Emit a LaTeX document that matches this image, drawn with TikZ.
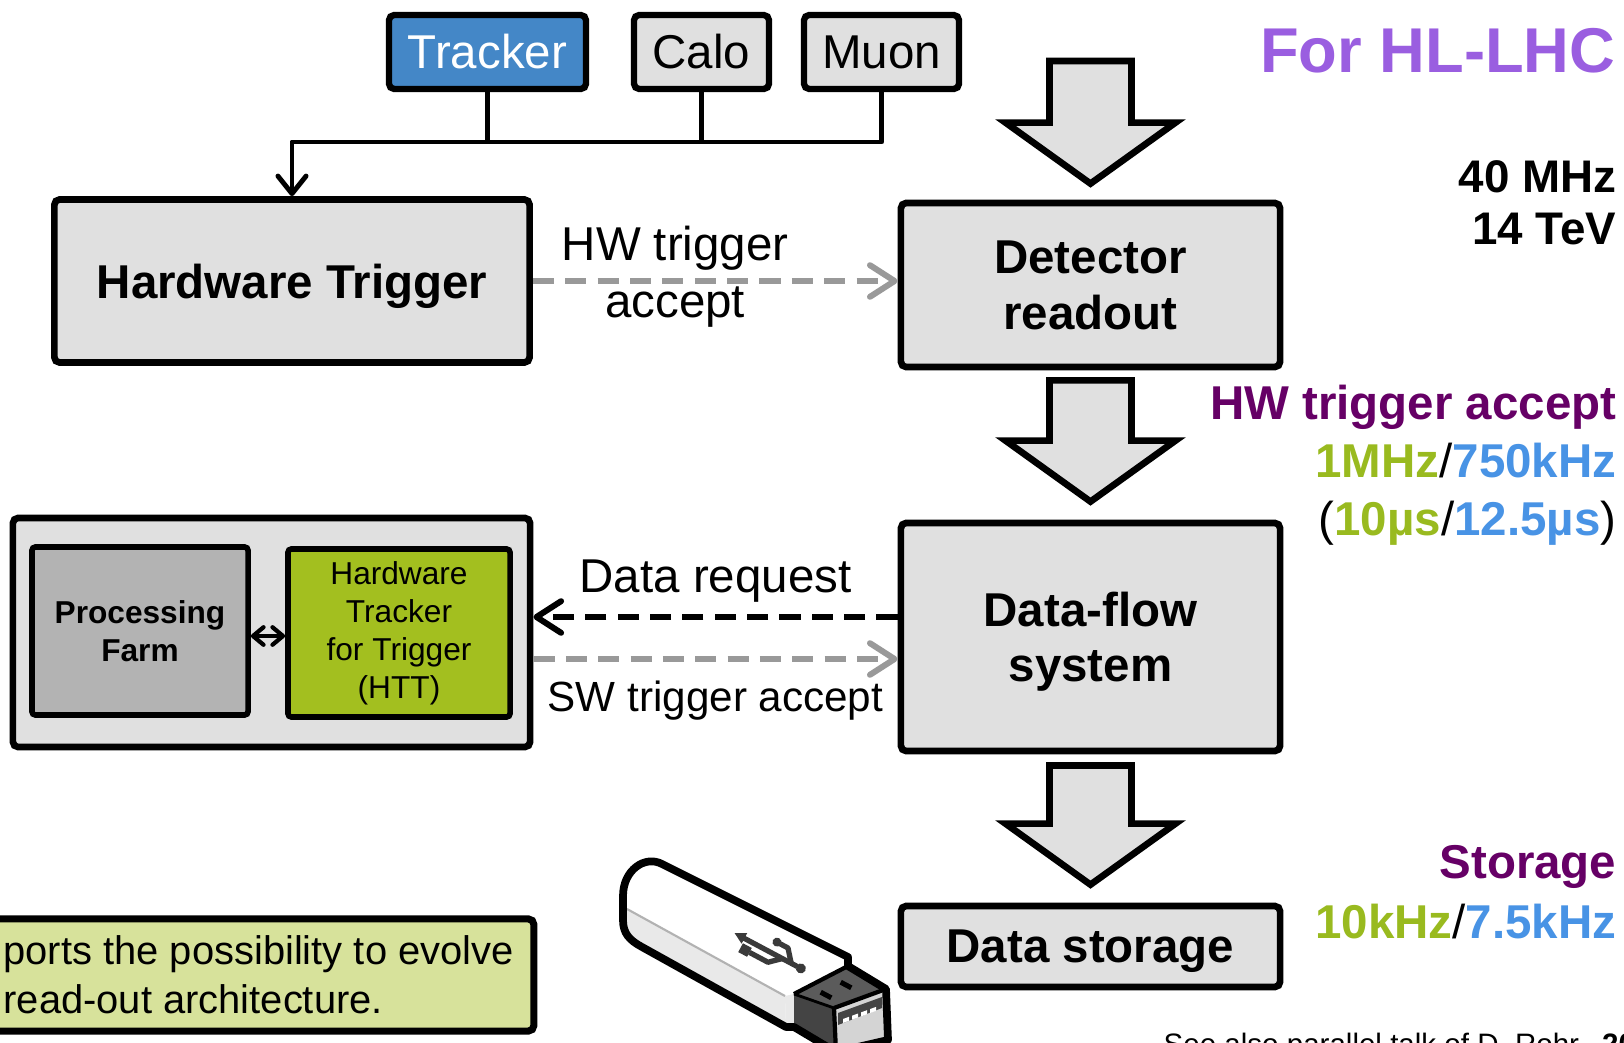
\documentclass[tikz,border=0pt]{standalone}
\usepackage{fontspec}
\setmainfont{Liberation Sans}
\usetikzlibrary{calc, arrows.meta}

\definecolor{boxgray}{HTML}{E0E0E0}
\definecolor{farmgray}{HTML}{B3B3B3}
\definecolor{trackblue}{HTML}{4487C7}
\definecolor{httgreen}{HTML}{A3BF1F}
\definecolor{notegreen}{HTML}{D7E29B}
\definecolor{hlpurple}{HTML}{9A5EE0}
\definecolor{ratepurple}{HTML}{660066}
\definecolor{rategreen}{HTML}{99BA1F}
\definecolor{rateblue}{HTML}{4893E5}
\definecolor{acceptgray}{HTML}{999999}
\definecolor{usbside}{HTML}{E9E9E9}
\definecolor{plugdark}{HTML}{5B5B5B}
\definecolor{plugside}{HTML}{444444}
\definecolor{plugface}{HTML}{D4D4D4}
\definecolor{usbmark}{HTML}{3A3A3A}

\tikzset{
  block/.style = {draw, line width=1.9pt, rounded corners=1.5pt, fill=boxgray,
    align=center, inner sep=0pt, text depth=0pt, font=\bfseries\fontsize{13.5}{15.8}\selectfont},
  detbox/.style = {draw, line width=1.8pt, rounded corners=1.5pt, fill=boxgray,
    inner sep=0pt, minimum height=0.74cm, font=\fontsize{13.5}{16}\selectfont},
  unitbox/.style = {draw, line width=1.6pt, rounded corners=1pt, align=center,
    inner sep=0pt, minimum height=1.68cm, font=\fontsize{9}{10.8}\selectfont},
  wire/.style = {line width=1.4pt, line join=round},
  barb/.style = {-{Straight Barb[length=7pt, width=9pt, round]}},
  hwaccept/.style = {draw=acceptgray, line width=1.7pt, dash pattern=on 6pt off 3.2pt, barb},
  request/.style = {draw=black, line width=1.7pt, dash pattern=on 6pt off 3.2pt, barb},
  flowlabel/.style = {font=\fontsize{13.5}{16}\selectfont, align=center},
  fatarrow/.style = {draw, fill=boxgray, line width=1.9pt},
  rate/.style = {anchor=base east, inner sep=0pt, font=\bfseries\fontsize{13.5}{16}\selectfont},
  notebox/.style = {draw, line width=2pt, rounded corners=1.5pt, fill=notegreen, align=left,
    inner xsep=0.2cm, inner ysep=0pt, minimum height=1.12cm, font=\fontsize{11.35}{14}\selectfont}
}

% hollow block arrow from #1 (top of shaft) down to #2 (tip)
\newcommand{\bigflow}[2]{%
  \draw[fatarrow] ($(#1)+(-41,0)$) -- ($(#2)+(-41,-61)$) -- ($(#2)+(-85,-61)$)
    -- (#2) -- ($(#2)+(85,-61)$) -- ($(#2)+(41,-61)$) -- ($(#1)+(41,0)$) -- cycle;}

\newcommand{\usbshape}{(662,864) -- (848,957) -- (848,966) -- (886,989) -- (888,1040)
  -- (836,1052) -- (794,1027) -- (786,1027) -- (642,947)
  .. controls (629,940) and (623,933) .. (623,920) -- (623,896)
  .. controls (623,870) and (645,855) .. (662,864) -- cycle}

\begin{document}
\begin{tikzpicture}[x=0.01cm, y=-0.01cm]
  \useasboundingbox (0,0) rectangle (1624,1043);
  \clip (0,0) rectangle (1624,1043);
  \fill[white] (0,0) rectangle (1624,1043);

  % sub-detectors feeding the hardware trigger
  \node[detbox, fill=trackblue, text=white, minimum width=1.97cm] (tracker) at (487.5,52) {Tracker};
  \node[detbox, minimum width=1.35cm] (calo) at (701.5,52) {Calo};
  \node[detbox, minimum width=1.55cm] (muon) at (881.5,52) {Muon};

  \node[block, minimum width=4.75cm, minimum height=1.63cm] (hwtrig) at (292,281) {Hardware Trigger};
  \node[block, minimum width=3.79cm, minimum height=1.64cm] (readout) at (1090.5,285) {Detector\\readout};
  \node[block, minimum width=3.79cm, minimum height=2.28cm] (dataflow) at (1090.5,637) {Data-flow\\system};
  \node[block, minimum width=3.79cm, minimum height=0.81cm] (storage) at (1090.5,946.5) {Data storage};

  % event filter: farm + HTT
  \node[block, minimum width=5.17cm, minimum height=2.29cm] (farmbox) at (271.5,632.5) {};
  \node[unitbox, fill=farmgray, font=\bfseries\fontsize{9}{10.8}\selectfont,
    minimum width=2.16cm] (farm) at (140,631) {Processing\\Farm};
  \node[unitbox, fill=httgreen, minimum width=2.22cm] (htt) at (399,633) {Hardware\\Tracker\\for Trigger\\(HTT)};

  \coordinate (bus) at (292,142);
  \draw[wire, -{Straight Barb[length=5pt, width=8pt, round]}] (muon.south) |- (bus) -- (hwtrig.north);
  \draw[wire] (tracker.south) -- (tracker.south |- bus);
  \draw[wire] (calo.south) -- (calo.south |- bus);

  \draw[hwaccept] (hwtrig.east) -- node[flowlabel, pos=0.39, yshift=1.2pt] {HW trigger\\accept}
    (hwtrig.east -| readout.west);

  \coordinate (reqstart) at ($(dataflow.west)+(0,-20)$);
  \coordinate (swend) at ($(dataflow.west)+(0,22)$);
  \draw[request] (reqstart) -- node[flowlabel, above] {Data request} (reqstart -| farmbox.east);
  \draw[hwaccept] (swend -| farmbox.east) -- node[flowlabel, below, yshift=-2pt, font=\fontsize{12}{14}\selectfont]
    {SW trigger accept} (swend);

  \draw[wire, line width=1.2pt, {Straight Barb[length=3pt, width=5pt, round]}-{Straight Barb[length=3pt, width=5pt, round]}]
    ($(farm.east)+(0,5)$) -- ($(htt.west)+(0,3)$);

  % data path down the right column
  \coordinate (in1) at (1090.5,61);
  \coordinate (out1) at ($(readout.north)+(0,-16)$);
  \coordinate (in2) at ($(readout.south)+(0,10)$);
  \coordinate (out2) at ($(dataflow.north)+(0,-18)$);
  \coordinate (in3) at ($(dataflow.south)+(0,11)$);
  \coordinate (out3) at ($(storage.north)+(0,-18)$);
  \foreach \i in {1,2,3}
    \bigflow{in\i}{out\i};

  % rates
  \node[rate, font=\bfseries\fontsize{18}{20}\selectfont, text=hlpurple] (hllhc) at (1616,73) {For HL-LHC};
  \node[rate, font=\bfseries\fontsize{13}{15}\selectfont] (freq) at (1617,193) {40 MHz};
  \node[rate, font=\bfseries\fontsize{13}{15}\selectfont] (energy) at (1617,245) {14 TeV};
  \node[rate, text=ratepurple] (hwrate) at (1617,420) {HW trigger accept};
  \node[rate] (hwfreq) at (1617,478)
    {\textcolor{rategreen}{1MHz}{\mdseries/}\textcolor{rateblue}{750kHz}};
  \node[rate] (latency) at (1617,535)
    {{\mdseries(}\textcolor{rategreen}{10µs}{\mdseries/}\textcolor{rateblue}{12.5µs}{\mdseries)}};
  \node[rate, text=ratepurple] (storerate) at (1617,878) {Storage};
  \node[rate] (storefreq) at (1617,938)
    {\textcolor{rategreen}{10kHz}{\mdseries/}\textcolor{rateblue}{7.5kHz}};

  \node[anchor=base west, inner sep=0pt, font=\fontsize{8.4}{10}\selectfont] (seealso) at (1163,1054)
    {See also parallel talk of D. Rohr.~~\textbf{20}};

  \node[notebox, anchor=west] (note) at (-20,975) {ports the possibility to evolve\\read-out architecture.};

  % usb stick
  \fill[white] \usbshape;
  \fill[usbside] (627,909) -- (785,996) -- (786,1027) -- (642,947)
    .. controls (629,940) and (623,933) .. (623,920) -- cycle;
  \fill[usbside] (785,996) -- (794,994) -- (794,1027) -- (786,1027) -- cycle;
  \draw[gray!60, line width=0.6pt] (627,909) -- (785,996);
  \fill[plugdark] (794,994) -- (848,966) -- (886,989) -- (834,1008) -- cycle;
  \fill[plugside] (794,994) -- (834,1008) -- (836,1052) -- (794,1027) -- cycle;
  \fill[plugface] (834,1008) -- (886,989) -- (888,1040) -- (836,1052) -- cycle;
  \fill[plugside] (838,1013) -- (882,997) -- (882,1008) -- (838,1025) -- cycle;
  \foreach \k in {0,...,3}
    \fill[white] ($(843,1019)+(9*\k,-3.3*\k)$) -- ++(6,-2.2) -- ++(0,4) -- ++(-6,2.2) -- cycle;
  \foreach \px/\py in {826/995, 846/985}
    \fill[black, rotate around={-28:(\px,\py)}] ($(\px,\py)+(-6,-2.5)$) rectangle ($(\px,\py)+(6,2.5)$);
  \draw[line width=1.2pt, line join=round] (794,994) -- (848,966);
  \draw[line width=1.2pt, line join=round] (834,1008) -- (886,989);
  \draw[line width=1.2pt] (834,1008) -- (836,1052);
  \draw[line width=0.8pt] (794,994) -- (834,1008);
  \draw[line width=2.2pt, line join=round] \usbshape;
  \begin{scope}[shift={(770,952)}, rotate=-28, usbmark]
    \draw[line width=1.5pt] (-31,0) -- (31,0);
    \fill (-40,0) -- (-29,-6) -- (-29,6) -- cycle;
    \fill (35,0) circle (5);
    \draw[line width=1.5pt, line join=round] (24,0) -- (14,-12) -- (4,-12);
    \fill (1.5,-12) circle (4.5);
    \draw[line width=1.5pt, line join=round] (14,0) -- (3,10) -- (-18,10);
    \fill (-23,10) +(-5,-5) rectangle +(5,5);
  \end{scope}
\end{tikzpicture}
\end{document}
